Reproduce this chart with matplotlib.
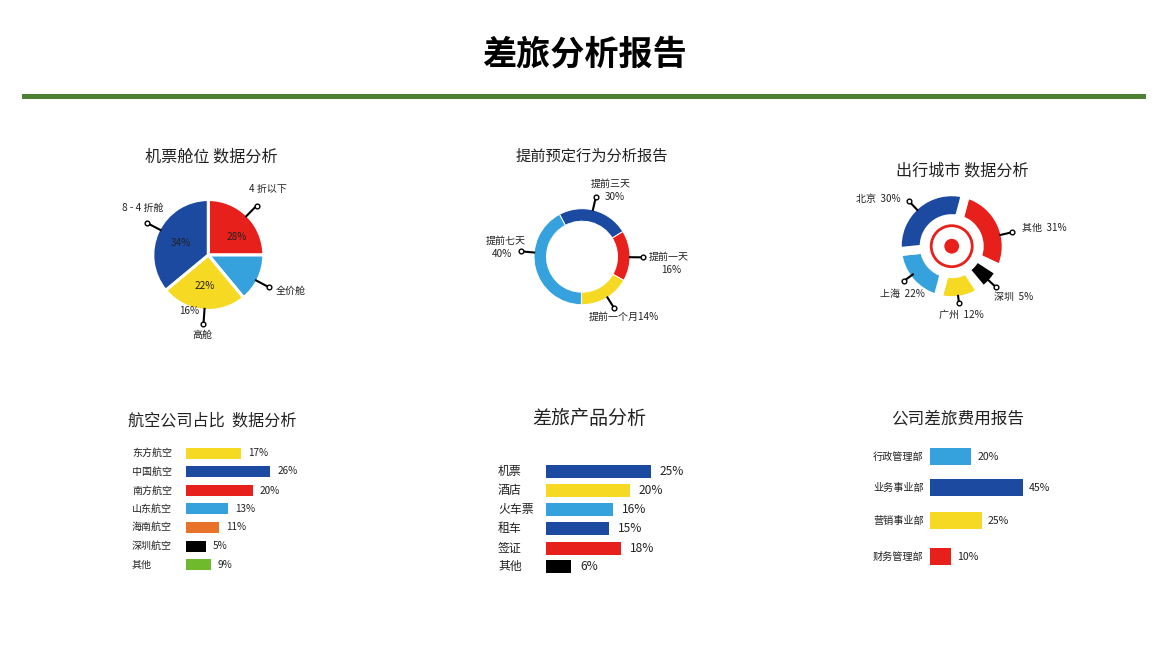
import numpy as np
import matplotlib
matplotlib.use('Agg')
import matplotlib.pyplot as plt
from matplotlib.patches import Circle

plt.rcParams['font.family'] = ['Noto Sans CJK SC', 'DejaVu Sans']

RED = '#e8201c'
NAVY = '#1c4aa0'
SKY = '#35a2de'
YELLOW = '#f5d922'
ORANGE = '#e8722a'
GREEN = '#6fb92c'
BLACK = '#000000'
TEXT = '#222222'

# pie: slice shares as measured on the picture
cabin_shares = [25, 14, 25, 36]
cabin_colors = [RED, SKY, YELLOW, NAVY]
cabin_pct = ['28%', '22%', '34%']

# donut
advance_shares = [24, 17, 17, 42]
advance_colors = [NAVY, RED, YELLOW, SKY]

# city ring, clockwise from the top right, white is the slot around the black piece
city_shares = [27.8, 8.9, 13.3, 19.2, 30.8]
city_colors = [RED, 'white', YELLOW, SKY, NAVY]
# black piece: space before it, piece, space after it
black_shares = [30.0, 4.8, 65.2]
black_colors = ['none', BLACK, 'none']

airlines = ['东方航空', '中国航空', '南方航空', '山东航空', '海南航空', '深圳航空', '其他']
airline_pct = [17, 26, 20, 13, 11, 5, 9]
airline_len = [17, 26, 20.5, 13, 10.3, 6.2, 7.6]
airline_colors = [YELLOW, NAVY, RED, SKY, ORANGE, BLACK, GREEN]

products = ['机票', '酒店', '火车票', '租车', '签证', '其他']
product_pct = [25, 20, 16, 15, 18, 6]
product_colors = [NAVY, YELLOW, SKY, NAVY, RED, BLACK]

depts = ['行政管理部', '业务事业部', '营销事业部', '财务管理部']
dept_pct = [20, 45, 25, 10]
dept_colors = [SKY, NAVY, YELLOW, RED]

W, H = 1170, 659
fig = plt.figure(figsize=(W / 100, H / 100), dpi=100)

bg = fig.add_axes([0, 0, 1, 1], zorder=5)
bg.set_xlim(0, W)
bg.set_ylim(H, 0)
bg.axis('off')
bg.patch.set_alpha(0)


def px_axes(x0, y0, x1, y1):
    return fig.add_axes([x0 / W, 1 - y1 / H, (x1 - x0) / W, (y1 - y0) / H])


def round_axes(cx, cy, r):
    ax = px_axes(cx - r, cy - r, cx + r, cy + r)
    ax.set_xlim(-r, r)
    ax.set_ylim(-r, r)
    ax.axis('off')
    return ax


def leader(cx, cy, angle, r0, r1):
    a = np.radians(angle)
    xs = [cx + r0 * np.cos(a), cx + r1 * np.cos(a)]
    ys = [cy - r0 * np.sin(a), cy - r1 * np.sin(a)]
    bg.plot(xs, ys, color='black', lw=1.5, solid_capstyle='butt')
    bg.plot(xs[1], ys[1], 'o', ms=3.4, mfc='white', mec='black', mew=1)


def label(x, y, s, size=7.2, color=TEXT, **kw):
    bg.text(x, y, s, fontsize=size, color=color, ha='center', va='center', **kw)


def hbars(x0, x1, y0, y1, ypos, lengths, pct, names, colors, scale, h, name_x, gap, size, pct_size):
    ax = px_axes(x0, y0, x1, y1)
    ax.set_xlim(0, (x1 - x0) / scale)
    ax.set_ylim(y1, y0)
    ax.axis('off')
    ax.barh(ypos, lengths, height=h, color=colors)
    for y, n, p, l in zip(ypos, names, pct, lengths):
        ax.annotate(n, (0, y), xytext=(name_x - x0, 0), textcoords='offset pixels',
                    ha='left', va='center', fontsize=size, color=TEXT, annotation_clip=False)
        ax.annotate(f'{p}%', (l, y), xytext=(gap, 0), textcoords='offset pixels',
                    ha='left', va='center', fontsize=pct_size, color=TEXT, annotation_clip=False)


# header
label(584.5, 54, '差旅分析报告', size=24.6, color='black', fontweight='bold')
bg.fill_between([22, 1146], 94, 99, color='#4f7f32', lw=0)

# panel titles
label(211, 156.5, '机票舱位 数据分析', size=11.6)
label(592, 156.5, '提前预定行为分析报告', size=11)
label(962, 170.5, '出行城市 数据分析', size=11.6)
label(212, 420.5, '航空公司占比  数据分析', size=11.6)
label(589, 419, '差旅产品分析', size=13.7)
label(958, 418.5, '公司差旅费用报告', size=12)

# cabin pie
cx, cy = 208.3, 255
ax = round_axes(cx, cy, 56)
ax.pie(cabin_shares, colors=cabin_colors, startangle=90, counterclock=False, radius=55.5,
       wedgeprops=dict(edgecolor='white', linewidth=2.2))
ax.set_xlim(-56, 56)
ax.set_ylim(-56, 56)
for ang in [45.6, -28, -94, 152.4]:
    leader(cx, cy, ang, 53, 69)
label(236.5, 236.5, cabin_pct[0], size=7.2)
label(205, 286, cabin_pct[1], size=7.2)
label(181, 243.5, cabin_pct[2], size=7.2)
label(268, 189, '4 折以下')
label(143, 208, '8 - 4 折舱')
label(290.5, 290.5, '全价舱')
label(189.5, 311, '16%')
label(202, 334.5, '高舱')

# booking donut
cx, cy = 582, 256.7
ax = round_axes(cx, cy, 49)
ax.pie(advance_shares, colors=advance_colors, startangle=118, counterclock=False, radius=48,
       wedgeprops=dict(width=12.5, edgecolor='white', linewidth=0.7))
ax.set_xlim(-49, 49)
ax.set_ylim(-49, 49)
for ang in [76.9, -0.6, -58, 175]:
    leader(cx, cy, ang, 47, 61)
label(611, 184, '提前三天')
label(614.5, 197.5, '30%')
label(668.5, 257, '提前一天')
label(671, 270, '16%')
label(624, 317, '提前一个月14%')
label(505.5, 241, '提前七天')
label(502, 254, '40%')

# city ring
cx, cy = 951.7, 246.2
ax = round_axes(cx, cy, 56)
ax.pie(city_shares, colors=city_colors, startangle=75, counterclock=False, radius=54.5,
       wedgeprops=dict(width=27, edgecolor='white', linewidth=6.5))
ax.pie(black_shares, colors=black_colors, startangle=75, counterclock=False, radius=50,
       wedgeprops=dict(width=19, edgecolor='none', linewidth=0))
ax.set_xlim(-56, 56)
ax.set_ylim(-56, 56)
ax.add_patch(Circle((0, 0), 20.5, fc='none', ec=RED, lw=2))
ax.add_patch(Circle((0, 0), 7.4, fc=RED, ec='none'))
for ang, r0, r1 in [(133.5, 49, 62), (13, 49, 62), (-42.8, 49, 60), (-82.7, 49, 57.5), (216, 47, 59)]:
    leader(cx, cy, ang, r0, r1)
label(878.5, 199, '北京  30%')
label(1044, 228, '其他  31%')
label(1014, 297, '深圳  5%')
label(961, 315, '广州  12%')
label(902, 294, '上海  22%')

# bars
hbars(186, 320, 444, 574, [453, 471.5, 490.5, 508.5, 527, 546, 564.5], airline_len, airline_pct,
      airlines, airline_colors, 3.25, 11, 132, 7, 7.2, 7.2)
hbars(546, 700, 462, 575, [471, 490, 509, 528, 548, 566.5], product_pct, product_pct,
      products, product_colors, 4.18, 13, 498, 9, 8.6, 8.6)
hbars(930, 1060, 445, 570, [457, 488, 521, 557], dept_pct, dept_pct,
      depts, dept_colors, 2.07, 17, 873, 6, 7.3, 7.6)

fig.savefig('out.png', dpi=100, facecolor='white')
